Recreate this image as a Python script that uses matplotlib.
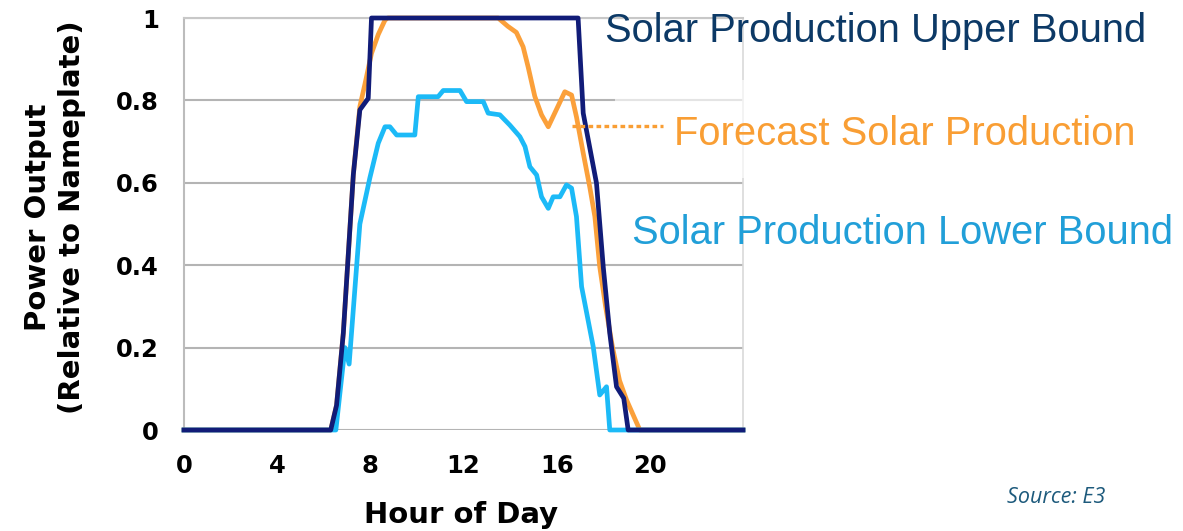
import matplotlib
matplotlib.use("Agg")
import matplotlib.pyplot as plt
from matplotlib.patches import Rectangle
from matplotlib.lines import Line2D

# values (hour of day, output relative to nameplate)
upper_hours = [0, 6.3, 6.55, 6.84, 7.27, 7.55, 7.91, 8.05, 16.92, 17.14, 17.71,
               18.0, 18.28, 18.57, 18.88, 19.07, 24]
upper_vals = [0, 0, 0.06, 0.235, 0.62, 0.777, 0.805, 1.0, 1.0, 0.769, 0.599,
              0.396, 0.235, 0.105, 0.077, 0, 0]

forecast_hours = [0, 6.3, 6.55, 6.84, 7.27, 7.55, 7.77, 8.05, 8.34, 8.63, 8.75,
                  13.49, 13.9, 14.27, 14.56, 14.78, 15.06, 15.35, 15.64, 16.35,
                  16.64, 16.85, 17.14, 17.42, 17.64, 17.85, 18.1, 18.4, 18.7,
                  19.0, 19.57, 24]
forecast_vals = [0, 0, 0.06, 0.235, 0.62, 0.785, 0.84, 0.914, 0.96, 0.995, 1.0,
                 1.0, 0.98, 0.965, 0.93, 0.88, 0.81, 0.765, 0.736, 0.821,
                 0.813, 0.76, 0.672, 0.59, 0.518, 0.396, 0.30, 0.20, 0.12,
                 0.073, 0, 0]

lower_hours = [0, 6.52, 6.91, 7.09, 7.55, 7.98, 8.34, 8.63, 8.84, 9.13, 9.91,
               10.06, 10.91, 11.13, 11.85, 12.13, 12.85, 13.06, 13.56, 13.99,
               14.42, 14.64, 14.85, 15.14, 15.35, 15.64, 15.85, 16.14, 16.42,
               16.64, 16.85, 17.07, 17.57, 17.85, 18.14, 18.28, 24]
lower_vals = [0, 0, 0.20, 0.16, 0.50, 0.612, 0.696, 0.736, 0.736, 0.716, 0.716,
              0.809, 0.809, 0.824, 0.824, 0.797, 0.797, 0.769, 0.765, 0.740,
              0.712, 0.688, 0.639, 0.619, 0.566, 0.538, 0.566, 0.566, 0.595,
              0.587, 0.518, 0.348, 0.202, 0.085, 0.105, 0, 0]

x_ticks = [0, 4, 8, 12, 16, 20]
y_ticks = [0, 0.2, 0.4, 0.6, 0.8, 1]
y_tick_labels = ["0", "0.2", "0.4", "0.6", "0.8", "1"]

W, H = 1183, 531
fig = plt.figure(figsize=(W / 100, H / 100), dpi=100)
ax = fig.add_axes([184 / W, (H - 430) / H, 559 / W, 412 / H])

ax.plot(forecast_hours, forecast_vals, color="#fba03a", lw=3.4, clip_on=False, zorder=3)
ax.plot(lower_hours, lower_vals, color="#1cbaf7", lw=3.4, clip_on=False, zorder=4)
ax.plot(upper_hours, upper_vals, color="#111c78", lw=3.4, clip_on=False, zorder=5)

ax.set_xlim(0, 24)
ax.set_ylim(0, 1)
ax.set_xticks(x_ticks)
ax.set_yticks(y_ticks)
ax.set_yticklabels(y_tick_labels)
ax.tick_params(length=0, labelsize=17.5)
ax.tick_params(axis="y", pad=18)
ax.tick_params(axis="x", pad=17)
for lab in ax.get_xticklabels() + ax.get_yticklabels():
    lab.set_fontweight("bold")

ax.yaxis.grid(True, color="#b4b4b4", lw=1.5)
ax.set_axisbelow(True)
ax.spines["bottom"].set_visible(False)
ax.spines["left"].set_color("#bcbcbc")
ax.spines["left"].set_linewidth(1.5)
ax.spines["top"].set_color("#c8c8c8")
ax.spines["top"].set_linewidth(1.5)
ax.spines["right"].set_color("#d9d9d9")
ax.spines["right"].set_linewidth(1.2)

# axis titles
fig.text(55 / W, 1 - 217 / H, "Power Output\n(Relative to Nameplate)", rotation=90,
         ha="center", va="center", multialignment="center", fontsize=21,
         fontweight="bold", linespacing=1.3)
fig.text(461 / W, 1 - 523 / H, "Hour of Day", ha="center", va="baseline",
         fontsize=21, fontweight="bold")

# faded white box behind the forecast label
fig.add_artist(Rectangle((615 / W, 1 - 178 / H), 150 / W, 98 / H,
                         transform=fig.transFigure, facecolor="white",
                         edgecolor="none", alpha=0.65, zorder=10))

# series labels
lbl_font = ["Liberation Sans", "DejaVu Sans"]
fig.text(605 / W, 1 - 42 / H, "Solar Production Upper Bound", color="#0c3966",
         fontsize=28.7, family=lbl_font, va="baseline", zorder=12)
fig.text(674 / W, 1 - 145 / H, "Forecast Solar Production", color="#f99e34",
         fontsize=28.7, family=lbl_font, va="baseline", zorder=12)
fig.text(632 / W, 1 - 244 / H, "Solar Production Lower Bound", color="#219fd8",
         fontsize=28.7, family=lbl_font, va="baseline", zorder=12)
fig.add_artist(Line2D([572 / W, 663 / W], [1 - 126 / H, 1 - 126 / H],
                      transform=fig.transFigure, color="#f99e34", lw=2.4,
                      linestyle=(0, (1.4, 1.0)), zorder=12))

fig.text(1007 / W, 1 - 503 / H, "Source: E3", color="#1d5a7c", fontsize=15.5,
         style="italic", family=["Open Sans", "DejaVu Sans"], va="baseline")

fig.savefig("out.png", dpi=100)
